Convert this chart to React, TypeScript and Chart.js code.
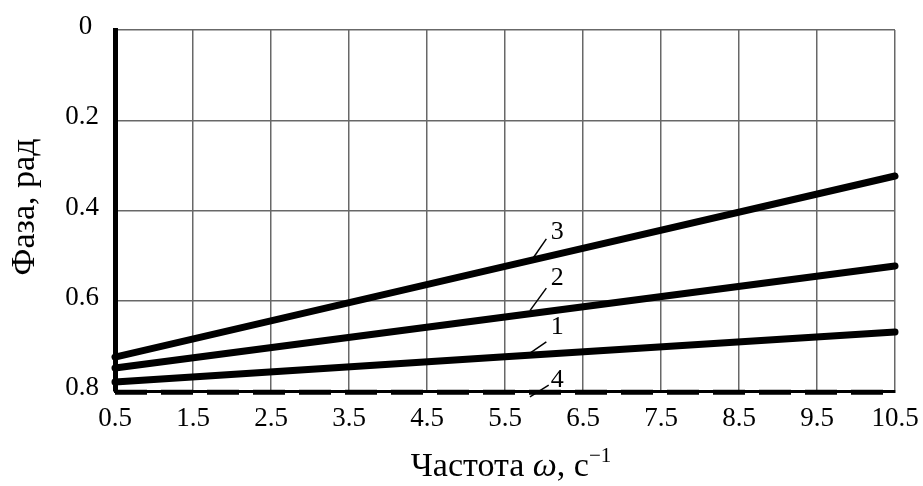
import React, { useEffect, useRef } from "react";
import { Chart, registerables } from "chart.js";

Chart.register(...registerables);

const omega = [0.5, 5.5, 10.5];
const curve1 = [0.78, 0.724, 0.669];
const curve2 = [0.749, 0.636, 0.523];
const curve3 = [0.725, 0.524, 0.3235];
const curve4 = [0.803, 0.803, 0.803];

const xTicks = [0.5, 1.5, 2.5, 3.5, 4.5, 5.5, 6.5, 7.5, 8.5, 9.5, 10.5];
const yTicks = [0, 0.2, 0.4, 0.6, 0.8];

const curveLabels = ["3", "2", "1", "4"];
const labelPos = [
  [6.17, 0.447],
  [6.17, 0.549],
  [6.17, 0.658],
  [6.17, 0.776],
];
const leaderFrom = [
  [5.85, 0.508],
  [5.82, 0.622],
  [5.82, 0.716],
  [5.82, 0.813],
];
const leaderTo = [
  [6.03, 0.463],
  [6.03, 0.572],
  [6.03, 0.691],
  [6.06, 0.787],
];

const xTitleMain = "Частота ";
const xTitleSym = "ω";
const xTitleUnit = ", с";
const xTitleSup = "−1";
const yTitle = "Фаза, рад";

const SERIF = "'Liberation Serif', 'Times New Roman', serif";

const annot = {
  id: "annot",
  afterDatasetsDraw(chart: any) {
    const { ctx, scales } = chart;
    const xs = scales.x;
    const ys = scales.y;
    ctx.save();
    ctx.strokeStyle = "#000";
    ctx.lineWidth = 1.5;
    ctx.fillStyle = "#000";
    ctx.font = `26px ${SERIF}`;
    ctx.textAlign = "center";
    ctx.textBaseline = "middle";
    curveLabels.forEach((t, i) => {
      ctx.beginPath();
      ctx.moveTo(xs.getPixelForValue(leaderFrom[i][0]), ys.getPixelForValue(leaderFrom[i][1]));
      ctx.lineTo(xs.getPixelForValue(leaderTo[i][0]), ys.getPixelForValue(leaderTo[i][1]));
      ctx.stroke();
      ctx.fillText(t, xs.getPixelForValue(labelPos[i][0]), ys.getPixelForValue(labelPos[i][1]));
    });

    // x title in pieces
    const fs = 34;
    const fN = `${fs}px ${SERIF}`;
    const fI = `italic ${fs}px ${SERIF}`;
    const fS = `${Math.round(fs * 0.62)}px ${SERIF}`;
    const parts = [
      { t: xTitleMain, f: fN, dy: 0 },
      { t: xTitleSym, f: fI, dy: 0 },
      { t: xTitleUnit, f: fN, dy: 0 },
      { t: xTitleSup, f: fS, dy: -fs * 0.42 },
    ];
    let total = 0;
    const widths = parts.map((p) => {
      ctx.font = p.f;
      const w = ctx.measureText(p.t).width;
      total += w;
      return w;
    });
    let x = 511 - total / 2;
    const base = 476;
    ctx.textAlign = "left";
    ctx.textBaseline = "alphabetic";
    parts.forEach((p, i) => {
      ctx.font = p.f;
      ctx.fillText(p.t, x, base + p.dy);
      x += widths[i];
    });

    // y title
    ctx.font = fN;
    ctx.textAlign = "center";
    ctx.textBaseline = "middle";
    ctx.translate(25, 207);
    ctx.rotate(-Math.PI / 2);
    ctx.fillText(yTitle, 0, 0);
    ctx.restore();
  },
};

export default function App() {
  const ref = useRef<HTMLCanvasElement>(null);
  useEffect(() => {
    document.body.style.margin = "0";
    const mk = (data: number[]) => omega.map((x, i) => ({ x, y: data[i] }));
    const lineDs = (label: string, data: number[]) => ({
      label,
      data: mk(data),
      borderColor: "#000",
      borderWidth: 7,
      borderCapStyle: "round" as const,
      pointRadius: 0,
      tension: 0,
      clip: false as any,
    });
    const chart = new Chart(ref.current!, {
      type: "line",
      data: {
        datasets: [
          lineDs("1", curve1),
          lineDs("2", curve2),
          lineDs("3", curve3),
          {
            label: "4",
            data: mk(curve4),
            borderColor: "#000",
            borderWidth: 5,
            borderDash: [32, 14],
            borderCapStyle: "butt",
            pointRadius: 0,
            clip: false as any,
          },
        ],
      },
      options: {
        animation: false,
        responsive: false,
        devicePixelRatio: 1,
        layout: { padding: { top: 30, right: 28, left: 0, bottom: 0 } },
        plugins: { legend: { display: false }, tooltip: { enabled: false } },
        scales: {
          x: {
            type: "linear",
            min: 0.5,
            max: 10.5,
            afterBuildTicks: (s: any) => {
              s.ticks = xTicks.map((v) => ({ value: v }));
            },
            afterFit: (s: any) => {
              s.height = 95;
              s.paddingLeft = 0;
              s.paddingRight = 0;
            },
            grid: { color: "#686868", lineWidth: 1.5, drawTicks: false },
            border: { color: "#000", width: 3 },
            ticks: {
              color: "#000",
              font: { family: SERIF, size: 27 },
              padding: 12,
              maxRotation: 0,
              autoSkip: false,
              callback: (v: any) => Number(v).toFixed(1),
            },
          },
          y: {
            type: "linear",
            reverse: true,
            min: 0,
            max: 0.8,
            afterBuildTicks: (s: any) => {
              s.ticks = yTicks.map((v) => ({ value: v }));
            },
            afterFit: (s: any) => {
              s.width = 115;
              s.paddingTop = 0;
              s.paddingBottom = 0;
            },
            grid: { color: "#686868", lineWidth: 1.5, drawTicks: false },
            border: { color: "#000", width: 5 },
            ticks: {
              color: "#000",
              font: { family: SERIF, size: 27 },
              padding: 16,
              labelOffset: -3,
              autoSkip: false,
              callback: (v: any) => (Number(v) === 0 ? "0 " : Number(v).toFixed(1)),
            },
          },
        },
      },
      plugins: [annot],
    });
    return () => chart.destroy();
  }, []);
  return <canvas ref={ref} width={923} height={486} style={{ display: "block" }} />;
}
